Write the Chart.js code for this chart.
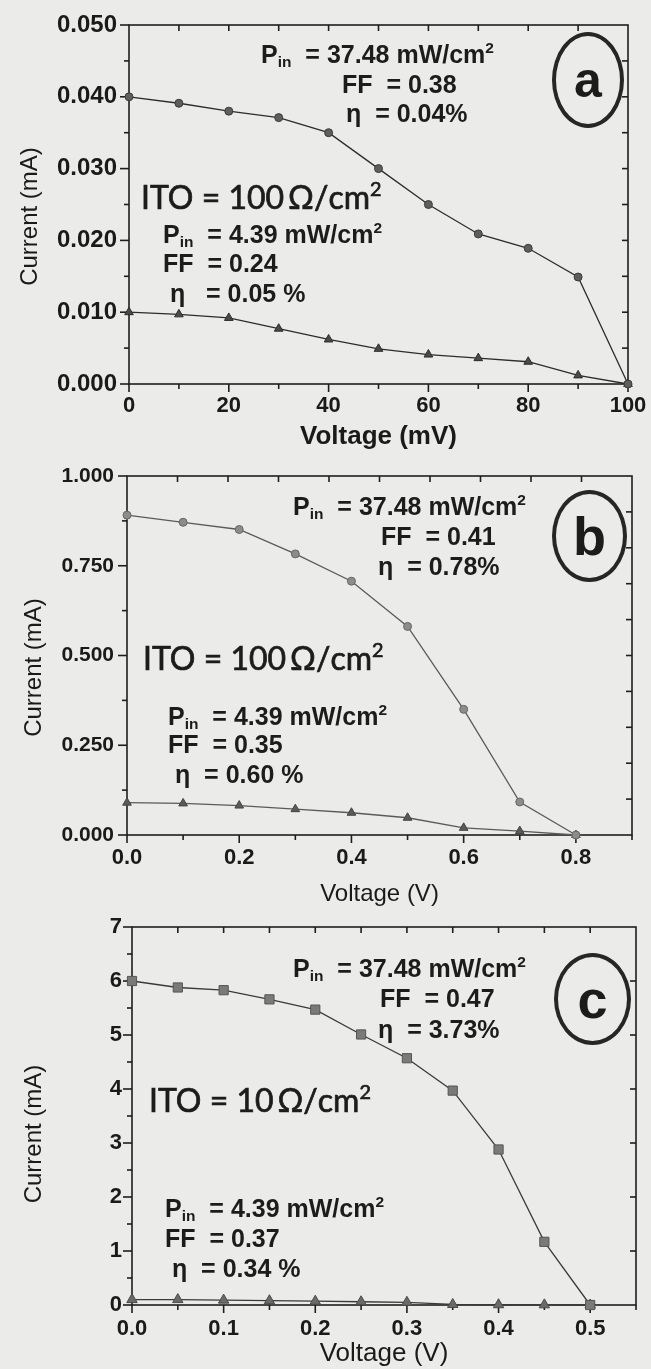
<!DOCTYPE html>
<html><head><meta charset="utf-8">
<script src="https://cdn.jsdelivr.net/npm/chart.js@4.4.0/dist/chart.umd.min.js"></script>
<style>
html,body{margin:0;padding:0;background:#ebebe9;}
#page{position:relative;width:651px;height:1369px;overflow:hidden;background:#ebebe9;}
canvas{position:absolute;left:0;}
.t{position:absolute;white-space:pre;font-family:'Liberation Sans',Arial,sans-serif;font-weight:bold;font-size:25px;line-height:1;color:#1c1c1c;}
.t sub{font-size:0.62em;vertical-align:baseline;position:relative;top:0.3em;}
.t sup{font-size:0.62em;vertical-align:baseline;position:relative;top:-0.62em;}
.ito{font-family:Lato,'Open Sans',sans-serif;font-weight:normal;font-size:32px;-webkit-text-stroke:0.7px #1c1c1c;}
.circ{position:absolute;border:4px solid #262626;border-radius:50%;box-sizing:border-box;display:flex;align-items:center;justify-content:center;font-family:'Liberation Sans',sans-serif;font-weight:bold;color:#1c1c1c;line-height:1;}
</style></head><body><div id="page">
<canvas id="ca" width="651" height="460" style="top:0px"></canvas>
<canvas id="cb" width="651" height="460" style="top:450px"></canvas>
<canvas id="cc" width="651" height="464" style="top:905px"></canvas>
</div>
<script>
// ---------- data ----------
const voltageA = [0, 10, 20, 30, 40, 50, 60, 70, 80, 90, 100];           // mV
const currentA_high = [0.0400, 0.0391, 0.0380, 0.0371, 0.0350, 0.0300, 0.0250, 0.0209, 0.0189, 0.0149, 0.0000];
const currentA_low  = [0.0100, 0.0097, 0.0092, 0.0077, 0.0062, 0.0049, 0.0041, 0.0036, 0.0031, 0.0012, 0.0000];

const voltageB = [0.0, 0.1, 0.2, 0.3, 0.4, 0.5, 0.6, 0.7, 0.8];          // V
const currentB_high = [0.891, 0.871, 0.851, 0.783, 0.707, 0.581, 0.350, 0.092, 0.000];
const currentB_low  = [0.090, 0.088, 0.082, 0.072, 0.062, 0.048, 0.020, 0.011, 0.000];

const voltageC = [0.00, 0.05, 0.10, 0.15, 0.20, 0.25, 0.30, 0.35, 0.40, 0.45, 0.50]; // V
const currentC_high = [6.00, 5.88, 5.83, 5.66, 5.47, 5.01, 4.57, 3.97, 2.88, 1.17, 0.00];
const currentC_low  = [0.10, 0.10, 0.09, 0.08, 0.07, 0.06, 0.05, 0.01, 0.005, 0.003, 0.00];

const ticksAx = [0, 20, 40, 60, 80, 100];
const ticksAy = [0, 0.01, 0.02, 0.03, 0.04, 0.05];
const ticksBx = [0, 0.2, 0.4, 0.6, 0.8];
const ticksBy = [0, 0.25, 0.5, 0.75, 1.0];
const ticksCx = [0, 0.1, 0.2, 0.3, 0.4, 0.5];
const ticksCy = [0, 1, 2, 3, 4, 5, 6, 7];

// ---------- frame + tick marks drawn through the scales ----------
const frameTicks = {
  id: 'frameTicks',
  beforeDatasetsDraw(chart, args, o) {
    const {ctx, chartArea: {left, right, top, bottom}, scales: {x, y}} = chart;
    ctx.save();
    ctx.strokeStyle = '#1e1e1e';
    ctx.lineWidth = 1.6;
    ctx.strokeRect(left, top, right - left, bottom - top);
    const ln = (a, b, c, d) => { ctx.beginPath(); ctx.moveTo(a, b); ctx.lineTo(c, d); ctx.stroke(); };
    const isMajor = (arr, v) => arr.some(m => Math.abs(m - v) < 1e-7);
    for (let i = 0; ; i++) {
      const v = x.min + i * o.xMinor; if (v > x.max + 1e-9) break;
      const p = x.getPixelForValue(v);
      ln(p, bottom, p, bottom + (isMajor(o.xMajor, v) ? 8 : 5));
    }
    for (let i = 0; ; i++) {
      const v = y.min + i * o.yMinor; if (v > y.max + 1e-9) break;
      const p = y.getPixelForValue(v);
      ln(left, p, left - (isMajor(o.yMajor, v) ? 9 : 5), p);
    }
    for (let i = 1; ; i++) {
      const v = x.min + i * o.topStep; if (v >= x.max - 1e-9) break;
      const p = x.getPixelForValue(v);
      ln(p, top, p, top + 6);
    }
    for (let i = 1; ; i++) {
      const v = y.min + i * o.rightStep; if (v >= y.max - 1e-9) break;
      const p = y.getPixelForValue(v);
      ln(right, p, right - 6, p);
    }
    ctx.restore();
  }
};

Chart.defaults.font.family = "'Liberation Sans', Arial, sans-serif";
Chart.defaults.color = '#1a1a1a';

function pts(xs, ys) { return xs.map((v, i) => ({x: v, y: ys[i]})); }

function makeChart(id, c) {
  return new Chart(document.getElementById(id), {
    type: 'scatter',
    data: {
      datasets: [
        { data: pts(c.vx, c.hi), showLine: true, borderColor: c.lineColor, borderWidth: 1.3,
          pointStyle: c.hiStyle, pointRadius: c.hiR, pointBackgroundColor: c.hiFill,
          pointBorderColor: c.hiBorder, pointBorderWidth: 1, clip: false },
        { data: pts(c.vx, c.lo), showLine: true, borderColor: c.lineColor, borderWidth: 1.3,
          pointStyle: 'triangle', pointRadius: c.loR, pointBackgroundColor: c.loFill,
          pointBorderColor: c.loBorder, pointBorderWidth: 1, clip: false }
      ]
    },
    options: {
      responsive: false, animation: false, events: [],
      layout: { padding: { top: c.padTop, right: c.padRight, bottom: c.padBottom, left: 0 } },
      plugins: {
        legend: { display: false }, tooltip: { enabled: false },
        frameTicks: { xMinor: c.xMinor, yMinor: c.yMinor, xMajor: c.xTicks, yMajor: c.yTicks,
                      topStep: c.topStep, rightStep: c.rightStep }
      },
      scales: {
        x: {
          type: 'linear', position: 'bottom', min: c.xMin, max: c.xMax,
          grid: { display: false, drawTicks: false }, border: { display: false },
          afterBuildTicks: s => { s.ticks = c.xTicks.map(v => ({value: v})); },
          afterFit: s => { s.height = c.xH; s.paddingLeft = 0; s.paddingRight = 0; },
          ticks: { autoSkip: false, maxRotation: 0, padding: c.xTickPad,
                   font: { size: c.xTickSize, weight: 'bold' },
                   callback: v => Number(v).toFixed(c.xDec) },
          title: { display: true, text: c.xTitle, padding: { top: 0, bottom: 0 },
                   font: { size: c.xTitleSize, weight: c.xTitleWeight } }
        },
        y: {
          type: 'linear', position: 'left', min: c.yMin, max: c.yMax,
          grid: { display: false, drawTicks: false }, border: { display: false },
          afterBuildTicks: s => { s.ticks = c.yTicks.map(v => ({value: v})); },
          afterFit: s => { s.width = c.yW; s.paddingTop = 0; s.paddingBottom = 0; },
          ticks: { autoSkip: false, padding: c.yTickPad,
                   font: { size: c.yTickSize, weight: 'bold' },
                   callback: v => Number(v).toFixed(c.yDec) },
          title: { display: true, text: c.yTitle, padding: { top: c.yTitlePad, bottom: 0 },
                   font: { size: 24, weight: 'normal' } }
        }
      }
    },
    plugins: [frameTicks]
  });
}

makeChart('ca', {
  vx: voltageA, hi: currentA_high, lo: currentA_low,
  xMin: 0, xMax: 100, yMin: 0, yMax: 0.05, xTicks: ticksAx, yTicks: ticksAy,
  xMinor: 10, yMinor: 0.005, topStep: 10, rightStep: 0.005,
  xDec: 0, yDec: 3, xTitle: 'Voltage (mV)', xTitleWeight: 'bold', xTitleSize: 26,
  yTitle: 'Current (mA)\u2003',
  padTop: 25, padRight: 23, padBottom: 8, xH: 68, yW: 129,
  xTickPad: 9, yTickPad: 12, xTickSize: 22, yTickSize: 24, yTitlePad: 16,
  lineColor: '#2c2c2c', hiStyle: 'circle', hiR: 4, hiFill: '#5e5e5e', hiBorder: '#3a3a3a',
  loR: 5, loFill: '#4a4a4a', loBorder: '#2c2c2c'
});

makeChart('cb', {
  vx: voltageB, hi: currentB_high, lo: currentB_low,
  xMin: 0, xMax: 0.9, yMin: 0, yMax: 1.0, xTicks: ticksBx, yTicks: ticksBy,
  xMinor: 0.1, yMinor: 0.125, topStep: 0.09, rightStep: 0.1,
  xDec: 1, yDec: 3, xTitle: 'Voltage (V)', xTitleWeight: 'normal', xTitleSize: 24,
  yTitle: 'Current (mA)\u2003',
  padTop: 26, padRight: 19, padBottom: 1, xH: 74, yW: 127,
  xTickPad: 10, yTickPad: 13, xTickSize: 22, yTickSize: 21, yTitlePad: 20,
  lineColor: '#5a5a5a', hiStyle: 'circle', hiR: 4, hiFill: '#8c8c8c', hiBorder: '#666',
  loR: 5, loFill: '#5a5a5a', loBorder: '#444'
});

makeChart('cc', {
  vx: voltageC, hi: currentC_high, lo: currentC_low,
  xMin: 0, xMax: 0.55, yMin: 0, yMax: 7, xTicks: ticksCx, yTicks: ticksCy,
  xMinor: 0.05, yMinor: 0.5, topStep: 0.05, rightStep: 1,
  xDec: 1, yDec: 0, xTitle: 'Voltage (V)', xTitleWeight: 'normal', xTitleSize: 26,
  yTitle: 'Current (mA)\u2003\u2002',
  padTop: 22, padRight: 15, padBottom: 0, xH: 64, yW: 132,
  xTickPad: 11, yTickPad: 10, xTickSize: 22, yTickSize: 22, yTitlePad: 20,
  lineColor: '#3a3a3a', hiStyle: 'rect', hiR: 6.5, hiFill: '#7a7a7a', hiBorder: '#555',
  loR: 6, loFill: '#6a6a6a', loBorder: '#4a4a4a'
});

// ---------- text annotations ----------
const page = document.getElementById('page');
function addText(html, left, baseline, cls) {
  const d = document.createElement('div');
  d.className = 't' + (cls ? ' ' + cls : '');
  d.innerHTML = html;
  page.appendChild(d);
  const fs = parseFloat(getComputedStyle(d).fontSize);
  const asc = cls === 'ito' ? 0.887 : 0.8465;
  d.style.left = left + 'px';
  d.style.top = (baseline - asc * fs) + 'px';
}
function addCircle(letter, left, top, w, h, fs) {
  const d = document.createElement('div');
  d.className = 'circ';
  d.textContent = letter;
  Object.assign(d.style, {left: left + 'px', top: top + 'px', width: w + 'px', height: h + 'px', fontSize: fs + 'px'});
  page.appendChild(d);
}
const PIN_HI = 'P<sub>in</sub>  = 37.48 mW/cm<sup>2</sup>';
const PIN_LO = 'P<sub>in</sub>  = 4.39 mW/cm<sup>2</sup>';

addText(PIN_HI, 261, 63);
addText('FF  = 0.38', 342, 93);
addText('\u03b7  = 0.04%', 346, 122);
addText('ITO = 100\u2009\u03a9/cm<sup>2</sup>', 141, 209, 'ito');
addText(PIN_LO, 163, 243);
addText('FF  = 0.24', 163, 272);
addText(' \u03b7   = 0.05 %', 163, 302);
addCircle('a', 552, 32, 72, 96, 50);

addText(PIN_HI, 293, 515);
addText('FF  = 0.41', 381, 545);
addText('\u03b7  = 0.78%', 378, 575);
addText('ITO = 100\u2009\u03a9/cm<sup>2</sup>', 143, 670, 'ito');
addText(PIN_LO, 168, 725);
addText('FF  = 0.35', 168, 753);
addText(' \u03b7  = 0.60 %', 168, 783);
addCircle('b', 552, 490, 75, 92, 54);

addText(PIN_HI, 293, 977);
addText('FF  = 0.47', 380, 1007);
addText('\u03b7  = 3.73%', 378, 1038);
addText('ITO = 10\u2009\u03a9/cm<sup>2</sup>', 149, 1112, 'ito');
addText(PIN_LO, 165, 1217);
addText('FF  = 0.37', 165, 1247);
addText(' \u03b7  = 0.34 %', 165, 1277);
addCircle('c', 554, 953, 77, 92, 54);
</script></body></html>
